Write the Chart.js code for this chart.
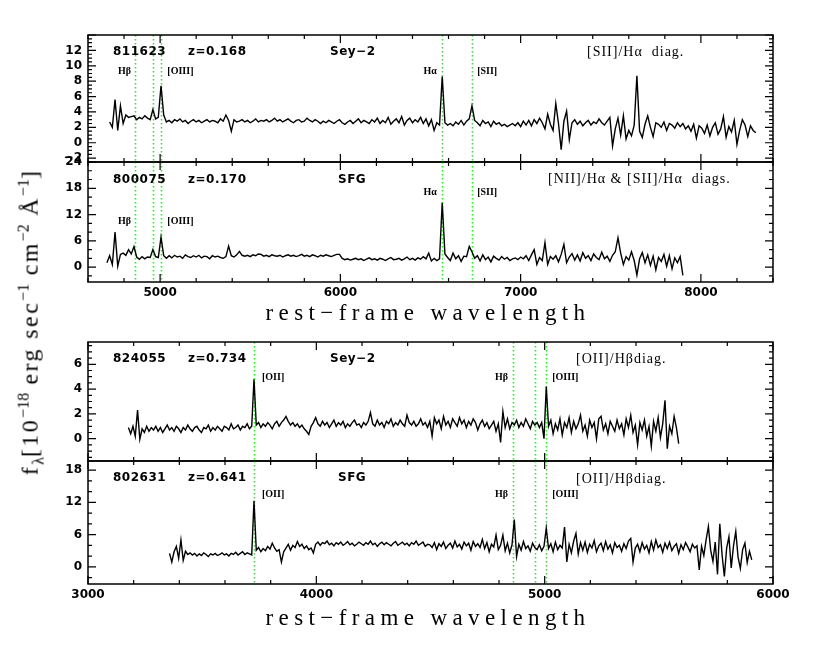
<!DOCTYPE html>
<html>
<head>
<meta charset="utf-8">
<script src="https://cdn.jsdelivr.net/npm/chart.js@4.4.1/dist/chart.umd.min.js"></script>
<style>
  body { margin: 0; background: #fff; width: 817px; height: 654px; position: relative; overflow: hidden; }
  canvas { position: absolute; left: 0; }
  .xtitle { position: absolute; left: 428px; transform: translate(-50%, -50%); font-family: "Liberation Serif", serif;
            font-size: 23px; letter-spacing: 5.4px; white-space: nowrap; color: #000; }
  .ytitle { position: absolute; left: 31px; top: 322px; transform: translate(-50%, -50%) rotate(-90deg);
            font-family: "Liberation Serif", serif; font-size: 24px; letter-spacing: 2.4px; white-space: nowrap; color: #000; }
  .ytitle sup, .ytitle sub { font-size: 16px; letter-spacing: 0; }
</style>
</head>
<body>
<canvas id="p1" width="817" height="159" style="top:19px"></canvas>
<canvas id="p2" width="817" height="161" style="top:146px"></canvas>
<canvas id="p3" width="817" height="151" style="top:326px"></canvas>
<canvas id="p4" width="817" height="164" style="top:445px"></canvas>
<div class="xtitle" style="top:313px">rest&minus;frame wavelength</div>
<div class="xtitle" style="top:618px">rest&minus;frame wavelength</div>
<div class="ytitle">f<sub>λ</sub>[10<sup>−18</sup> erg sec<sup>−1</sup> cm<sup>−2</sup> Å<sup>−1</sup>]</div>
<script>
// ---- data ----
// top pair: x from 4600 to 8400 A
const xTicksTop = [5000, 6000, 7000, 8000];
const xTicksBot = [3000, 4000, 5000, 6000];
const linesTop = [4861, 4959, 5007, 6563, 6731];
const linesBot = [3727, 4861, 4959, 5007];

const y1Ticks = [-2, 0, 2, 4, 6, 8, 10, 12];
const y2Ticks = [0, 6, 12, 18, 24];
const y3Ticks = [0, 2, 4, 6];
const y4Ticks = [0, 6, 12, 18];

// 811623, z=0.168 (rest-frame, 15 A sampling from 4720)
const wave1Start = 4720, wave1Step = 15;
const flux1 = [
  2.7, 2.0, 5.6, 1.6, 4.8, 2.5, 3.6, 3.3, 3.4, 3.5,
  3.0, 3.3, 3.1, 3.5, 3.2, 3.0, 4.3, 3.1, 3.3, 7.4, 3.6, 2.7,
  2.9, 2.6, 3.0, 2.8, 3.1, 2.7, 2.9, 2.5, 2.8, 3.0, 2.7, 2.9, 2.6, 2.8, 3.0, 2.7, 2.9, 2.8, 2.6, 3.1, 2.8, 3.6, 2.9,
  1.5, 3.0, 2.7,
  2.8, 3.0, 2.7, 2.9, 2.6, 2.8, 3.1, 2.7, 2.9, 2.8,
  3.0, 2.7, 2.9, 3.2, 2.8, 3.0, 2.7, 2.9, 3.1, 2.8,
  2.6, 2.9, 3.0, 2.7, 2.8, 3.2, 2.9, 2.7, 3.0, 2.8,
  2.5, 2.8, 2.6, 2.9, 2.7, 2.5, 2.8, 3.0, 2.6, 2.4,
  2.7, 2.9, 2.5, 2.8, 3.1, 2.6, 2.9, 2.7, 2.5, 3.0,
  2.7, 3.2, 2.5, 2.9, 2.6, 3.3, 2.4, 2.8, 3.1, 2.6,
  3.4, 2.3, 2.9, 3.2, 2.6, 3.0, 2.7, 3.3, 2.5, 3.1,
  2.2, 3.0, 1.6, 2.6, 2.3,
  8.6,
  2.6, 2.3, 2.5, 2.2, 2.7, 2.4, 2.9, 2.3, 2.8, 3.1,
  4.8, 2.9,
  2.6, 2.2, 2.9, 2.5, 2.7, 2.1, 2.8, 2.4, 2.6, 2.2, 2.4, 2.1, 2.3, 2.5,
  2.2, 2.6, 2.1, 2.8, 2.3, 2.9, 2.2, 3.0, 2.5, 3.2,
  2.6, 1.8, 3.7, 2.4, 1.6, 5.1, 2.5, -0.9, 2.8, 4.1, 0.4, 2.6,
  3.0, 2.4, 2.8, 2.2, 2.6, 2.9, 2.3, 2.7, 2.5, 3.1, 2.6, 2.3, 2.8, 3.3,
  -0.4, 1.8, 3.2, 1.0, 3.5, 0.5, 1.6, 0.9, 2.3, 8.7, 1.5, 0.7, 2.4, 3.5, 2.0, 0.8, 2.6,
  2.4, 2.0, 2.7, 1.6, 2.5, 2.3, 1.9, 2.6, 2.1, 2.5, 1.8, 2.2,
  1.5, 2.4, 0.6, 2.2, 1.9, 1.2, 2.3, 0.9, 2.0, 2.6, 1.1, 1.8, 3.4, 0.7, 2.1,
  1.4, 2.9, -0.2, 1.6, 3.0, 2.3, 0.8, 2.2, 1.6, 1.3
];

// 800075, z=0.170
const wave2Start = 4705, wave2Step = 15;
const flux2 = [
  1.0, 2.6, 0.6, 8.0, 0.2, 2.9, 3.2, 2.7, 4.0, 3.0, 4.7, 2.3, 1.8, 2.4, 1.9, 2.3, 2.2, 4.0, 2.4, 2.2, 6.8, 2.6, 2.0,
  2.6, 2.1, 2.7, 2.3, 2.5, 2.0, 2.8, 2.4, 2.2, 2.6, 2.3, 2.7, 2.1, 2.5, 2.4, 1.9, 2.6, 2.3, 2.5, 2.2, 2.0, 2.4,
  4.8, 2.6, 2.3, 2.8, 3.6, 2.7, 2.5,
  2.7, 2.4, 2.8, 2.6, 3.0, 2.9, 2.5, 2.7, 2.4, 2.8,
  2.6, 2.5, 2.7, 2.3, 2.6, 2.8, 2.5, 2.7, 2.4, 2.6,
  2.9, 2.5, 2.7, 2.4, 2.8, 2.6, 2.3, 2.7, 2.5, 2.8,
  2.6, 2.4, 2.7, 2.9,
  2.9,
  2.0, 1.7, 1.9, 1.6, 1.8, 2.0, 1.7, 1.9, 1.5, 1.8,
  2.1, 1.7, 1.9, 1.6, 2.0, 1.8, 1.5, 1.9, 2.2, 1.7,
  1.8, 2.0, 1.6, 1.9, 2.3, 1.7, 2.0, 1.6, 2.1, 1.8,
  2.4, 1.9,
  3.2, 1.4, 2.0, 1.5, 1.9,
  14.7,
  3.0, 2.2, 1.5, 3.2, 1.9, 2.6, 1.3, 2.5, 2.4, 4.7, 3.5, 2.0,
  2.6, 1.4, 2.8, 1.7, 2.3, 1.2, 2.5, 2.0, 1.6, 2.4, 1.8, 2.2, 1.5, 1.9, 2.1, 1.7, 2.3, 1.9, 2.6, 1.5, 2.8,
  4.0, 0.6, 2.2, 1.5, 5.6, 0.6, 2.4, 1.8, 2.6, 1.2, 2.9, 5.2, 1.0, 2.3,
  3.1, 1.6, 2.8, 1.4, 3.3, 2.0, 2.6, 1.5, 3.0, 2.2, 1.7, 3.4, 1.9, 2.5, 1.3, 2.7, 3.5,
  6.7, 3.2, 0.6, 2.4, 1.6, 3.5, 1.5, -1.8, 1.9, 3.3, 1.0, 2.8, 0.4, 2.5, -0.6, 2.2, 1.3, 2.9, 0.2, 2.6,
  -0.4, 2.1, 1.0, 2.4, -1.9
];

// 824055, z=0.734
const wave3Start = 3177, wave3Step = 10;
const flux3 = [
  0.9, 0.4, 1.0, 0.2, 2.3, -0.05, 0.8, 0.5, 1.0, 0.6, 0.9,
  0.7, 1.0, 0.6, 0.9, 0.5, 0.8, 1.1, 0.7, 0.9, 0.6,
  1.0, 0.8, 0.5, 0.9, 0.7, 1.1, 0.8, 0.6, 0.9, 1.0,
  0.7, 0.5, 0.9, 0.8, 1.1, 0.6, 0.9, 0.7, 1.0, 0.8,
  0.6, 1.0, 0.9, 0.7, 1.2, 0.8, 0.9, 1.1, 0.7, 1.0,
  0.9, 1.2, 0.8, 1.0,
  4.8,
  1.1, 1.3, 0.9, 1.2, 1.0, 1.3, 1.1, 0.8, 1.2, 1.4, 1.0, 1.3, 1.5,
  1.8, 1.4, 1.1, 1.3,
  1.0, 1.2, 0.9, 1.1, 0.8, 0.6, 0.35, 1.0, 1.3,
  1.7,
  1.2, 1.0, 1.4, 1.1, 1.3, 0.9, 1.2, 1.5, 1.0, 1.3,
  1.1, 1.4, 0.9, 1.2, 1.0, 1.3, 1.5, 1.1, 1.2, 0.9,
  1.3, 1.1, 1.4, 2.1, 1.2, 1.0, 1.5, 1.1, 1.3, 0.9,
  1.4, 1.2, 1.6, 1.0, 1.3, 1.1, 1.5, 1.2, 1.0, 1.9,
  1.3, 1.1, 1.4, 1.0, 1.2, 1.6, 1.1, 1.3, 0.9,
  1.4, 0.2, 1.7, 1.2, 1.5, 0.8, 1.8, 1.1, 1.4, 0.9,
  1.6, 1.3, 1.0, 1.7, 1.2, 1.5, 0.9, 1.4, 1.1, 1.6,
  1.3, 0.7, 1.2, 1.5, 1.0, 1.3, 0.8, 1.1, 1.4, 0.6,
  1.2, -0.3, 2.2, 0.9, 1.6, 0.8, 1.3,
  1.1, 1.5, 0.9, 1.3, 1.0, 1.6, 1.2, 0.8, 1.4, 1.1, 1.3, 0.9, 1.3, 0.0,
  4.2,
  1.0, 1.5, 0.4, 1.2, 0.7, 1.6, 0.3, 1.3, 0.9, 1.7,
  0.5, 1.4, 0.8, 1.2, 1.9, 0.6, 1.1, 0.2, 1.5, 0.9,
  1.3, 0.0, 1.6, 1.8, 0.7, 1.2, 0.4, 1.4, 1.0, 0.6,
  1.5, 0.8, 1.2, 0.3, 1.6, 0.9, 1.9, 0.5, 1.1, -0.5,
  1.3, 0.7, 1.5, 0.2, 1.0, -0.6, 1.4, 0.6, 1.7, 0.1,
  1.2, 3.1, -0.8, 1.0, 0.4, 1.8, 0.9, -0.4
];

// 802631, z=0.641
const wave4Start = 3357, wave4Step = 10;
const flux4 = [
  2.5, 0.9, 2.8, 3.8, 1.6, 5.0, 1.2, 2.9, 2.3, 2.6,
  2.2, 2.5, 2.0, 2.4, 2.1, 2.6, 2.3, 1.9, 2.4, 2.2,
  2.5, 2.1, 2.3, 2.6, 2.2, 2.4, 2.0, 2.5, 2.3, 2.7,
  2.2, 2.5, 2.8, 2.3, 2.6, 2.4, 2.2,
  12.3,
  3.1, 3.6, 2.8, 3.4, 3.0, 3.8, 3.3, 4.4, 3.5, 2.9, 3.2,
  0.9, 2.8,
  3.5, 4.2, 3.1, 4.0, 3.6, 4.7, 3.8, 4.2, 3.4, 3.9, 3.2, 3.5, 2.6,
  4.2, 4.6, 4.0, 4.5, 4.3, 4.8, 4.1, 4.4, 3.9, 4.5,
  4.2, 4.6, 4.0, 4.3, 4.7, 4.1, 4.4, 3.9, 4.2, 4.6,
  4.3, 4.0, 4.5, 4.2, 4.8, 4.1, 4.4, 3.8, 4.3, 4.6,
  4.1, 4.5, 4.2, 3.9, 4.4, 4.7, 4.0, 4.3, 4.6, 4.1,
  4.4, 3.9, 4.5, 4.2, 4.8, 4.0, 4.3, 4.6, 3.8, 4.2,
  4.1, 3.6, 4.5, 3.2, 4.3, 3.8, 4.6, 3.4, 4.0, 4.4,
  3.5, 4.8, 3.7, 4.2, 3.3, 4.6, 3.9, 4.4, 3.1, 4.7,
  3.8, 4.3, 3.6, 5.1, 3.4, 4.5, 2.8, 4.2, 3.7, 5.9,
  3.2, 4.0, 5.9, 3.0, 4.4, 2.6, 4.1,
  8.8, 1.9,
  4.2, 3.1, 4.7, 3.4, 3.9, 2.9, 4.4, 3.6, 3.2, 4.1, 3.0, 3.8,
  7.2, 3.4,
  4.3, 2.8, 4.6, 3.2, 4.0, 3.5,
  7.4, 0.9, 4.2, 2.6, 4.8, 6.2, 2.4, 4.5,
  3.1, 4.6, 2.7, 4.2, 3.5, 4.9, 2.8, 3.9, 4.4, 3.0,
  4.7, 3.3, 4.1, 2.6, 4.5, 3.6, 4.0, 2.9, 4.3, 3.4, 4.8,
  5.3, 0.9, 3.5,
  4.2, 2.8, 4.5, 3.3, 4.0, 2.6, 4.7, 3.1, 5.0, 3.6,
  4.1, 2.7, 4.4, 3.4, 4.6, 3.0, 3.8, 4.3, 2.5, 4.1,
  3.2, 4.5, 3.7, 2.8, 4.2, 3.5, 3.9,
  -0.6, 3.8, 2.1, 5.0, 7.5, 3.1, 1.0, 4.6, -1.4, 8.0,
  2.2, -1.8, 3.5, 5.6, -0.2, 3.9, 6.6, 1.8, -0.3, 3.2,
  4.4, 0.8, 2.9, 1.3
];

// ---- drawing ----
const TICK_FONT = { family: "DejaVu Sans", size: 12, weight: "bold" };
const ID_FONT = "bold 12px 'DejaVu Sans'";
const LINE_FONT = "bold 10px 'Liberation Serif'";
const DIAG_FONT = "14px 'Liberation Serif'";
const PAD = 16;

// fillText with manual letter spacing
function spaced(ctx, s, x, y, sp, align) {
  const chars = [...s];
  const w = chars.reduce((a, c) => a + ctx.measureText(c).width + sp, -sp);
  let cx = align === "right" ? x - w : x;
  ctx.textAlign = "left";
  chars.forEach(c => { ctx.fillText(c, cx, y); cx += ctx.measureText(c).width + sp; });
}

// one frame plugin per panel; settings kept in the closure
function makeFrame(cfg, canvasTop) {
  return {
    id: "pgframe",
    beforeDatasetsDraw(chart) {
      const { ctx, chartArea: a, scales: { x } } = chart;
      ctx.save();
      ctx.strokeStyle = "#22ee22";
      ctx.lineWidth = 1.6;
      ctx.setLineDash([1.6, 2.4]);
      cfg.lines.forEach(w => {
        const px = Math.round(x.getPixelForValue(w)) + 0.5;
        ctx.beginPath();
        ctx.moveTo(px, a.top);
        ctx.lineTo(px, a.bottom);
        ctx.stroke();
      });
      ctx.restore();
    },
    afterDatasetsDraw(chart) {
      const { ctx, chartArea: a, scales: { x, y } } = chart;
      ctx.save();
      ctx.strokeStyle = "#000";
      ctx.lineWidth = 1.5;
      ctx.strokeRect(a.left, a.top, a.right - a.left, a.bottom - a.top);
      ctx.lineWidth = 1.2;
      ctx.beginPath();
      // x ticks, inward on top and bottom (minor 200, major 1000)
      for (let v = Math.ceil(x.min / 200) * 200; v <= x.max; v += 200) {
        const px = x.getPixelForValue(v);
        const len = v % 1000 === 0 ? 8 : 4;
        ctx.moveTo(px, a.bottom); ctx.lineTo(px, a.bottom - len);
        ctx.moveTo(px, a.top); ctx.lineTo(px, a.top + len);
      }
      // y ticks, inward on left and right
      for (let v = Math.ceil(y.min / cfg.yMinor) * cfg.yMinor; v <= y.max + 1e-9; v += cfg.yMinor) {
        const py = y.getPixelForValue(v);
        const r = Math.abs(v / cfg.yMajor - Math.round(v / cfg.yMajor));
        const len = r < 1e-6 ? 8 : 4;
        ctx.moveTo(a.left, py); ctx.lineTo(a.left + len, py);
        ctx.moveTo(a.right, py); ctx.lineTo(a.right - len, py);
      }
      ctx.stroke();
      ctx.restore();
    },
    afterDraw(chart) {
      const { ctx, scales: { x } } = chart;
      ctx.save();
      ctx.fillStyle = "#000";
      ctx.textBaseline = "middle";
      cfg.notes.forEach(n => {
        ctx.font = n.font;
        const px = n.at !== undefined ? x.getPixelForValue(n.at) + n.dx : n.left;
        spaced(ctx, n.t, px, n.top - canvasTop, n.sp || 0, n.align);
      });
      ctx.restore();
    }
  };
}

const tickLabel = v => (v < 0 ? "\u2212" + Math.abs(v) : String(v));

function panel(id, cfg) {
  const cv = document.getElementById(id);
  const pts = cfg.flux.map((f, i) => ({ x: cfg.start + i * cfg.step, y: f }));
  new Chart(cv, {
    type: "line",
    data: { datasets: [{ data: pts, borderColor: "#000", borderWidth: 1.4, pointRadius: 0, tension: 0, fill: false }] },
    options: {
      responsive: false,
      animation: false,
      events: [],
      layout: { padding: { left: 0, right: 44, top: PAD, bottom: cfg.showX ? 0 : PAD } },
      plugins: { legend: { display: false }, tooltip: { enabled: false } },
      scales: {
        x: {
          type: "linear", min: cfg.xmin, max: cfg.xmax, display: cfg.showX,
          grid: { display: false, drawTicks: false }, border: { display: false },
          ticks: { padding: 4, font: TICK_FONT, color: "#000", maxRotation: 0, autoSkip: false, callback: tickLabel },
          afterBuildTicks: s => { s.ticks = cfg.xTicks.map(v => ({ value: v })); },
          afterFit: s => { s.height = cfg.showX ? 25 : 0; }
        },
        y: {
          min: cfg.ymin, max: cfg.ymax,
          grid: { display: false, drawTicks: false }, border: { display: false },
          ticks: { padding: 6, font: TICK_FONT, color: "#000", autoSkip: false, callback: tickLabel },
          afterBuildTicks: s => { s.ticks = cfg.yTicks.map(v => ({ value: v })); },
          afterFit: s => { s.width = 88; }
        }
      }
    },
    plugins: [makeFrame(cfg, parseInt(cv.style.top))]
  });
}

panel("p1", {
  flux: flux1, start: wave1Start, step: wave1Step, xmin: 4600, xmax: 8400, ymin: -2.5, ymax: 14,
  xTicks: xTicksTop, yTicks: y1Ticks, yMinor: 0.5, yMajor: 2, lines: linesTop, showX: false,
  notes: [
    { t: "811623", left: 113, top: 52, font: ID_FONT, sp: 0.5 },
    { t: "z=0.168", left: 188, top: 52, font: ID_FONT, sp: 0.5 },
    { t: "Sey\u22122", left: 330, top: 52, font: ID_FONT, sp: 0.5 },
    { t: "[SII]/H\u03b1  diag.", left: 587, top: 52, font: DIAG_FONT, sp: 1 },
    { t: "H\u03b2", at: 4861, dx: -4, top: 71, font: LINE_FONT, align: "right" },
    { t: "[OIII]", at: 5007, dx: 6, top: 71, font: LINE_FONT },
    { t: "H\u03b1", at: 6563, dx: -5, top: 71, font: LINE_FONT, align: "right" },
    { t: "[SII]", at: 6731, dx: 5, top: 71, font: LINE_FONT }
  ]
});

panel("p2", {
  flux: flux2, start: wave2Start, step: wave2Step, xmin: 4600, xmax: 8400, ymin: -3.4, ymax: 24,
  xTicks: xTicksTop, yTicks: y2Ticks, yMinor: 2, yMajor: 6, lines: linesTop, showX: true,
  notes: [
    { t: "800075", left: 113, top: 180, font: ID_FONT, sp: 0.5 },
    { t: "z=0.170", left: 188, top: 180, font: ID_FONT, sp: 0.5 },
    { t: "SFG", left: 338, top: 180, font: ID_FONT, sp: 0.5 },
    { t: "[NII]/H\u03b1 & [SII]/H\u03b1  diags.", left: 548, top: 179, font: DIAG_FONT, sp: 1 },
    { t: "H\u03b2", at: 4861, dx: -4, top: 221, font: LINE_FONT, align: "right" },
    { t: "[OIII]", at: 5007, dx: 6, top: 221, font: LINE_FONT },
    { t: "H\u03b1", at: 6563, dx: -5, top: 192, font: LINE_FONT, align: "right" },
    { t: "[SII]", at: 6731, dx: 5, top: 192, font: LINE_FONT }
  ]
});

panel("p3", {
  flux: flux3, start: wave3Start, step: wave3Step, xmin: 3000, xmax: 6000, ymin: -1.8, ymax: 7.8,
  xTicks: xTicksBot, yTicks: y3Ticks, yMinor: 0.5, yMajor: 2, lines: linesBot, showX: false,
  notes: [
    { t: "824055", left: 113, top: 359, font: ID_FONT, sp: 0.5 },
    { t: "z=0.734", left: 188, top: 359, font: ID_FONT, sp: 0.5 },
    { t: "Sey\u22122", left: 330, top: 359, font: ID_FONT, sp: 0.5 },
    { t: "[OII]/H\u03b2diag.", left: 576, top: 359, font: DIAG_FONT, sp: 1 },
    { t: "[OII]", at: 3727, dx: 8, top: 377, font: LINE_FONT },
    { t: "H\u03b2", at: 4861, dx: -5, top: 377, font: LINE_FONT, align: "right" },
    { t: "[OIII]", at: 5007, dx: 6, top: 377, font: LINE_FONT }
  ]
});

panel("p4", {
  flux: flux4, start: wave4Start, step: wave4Step, xmin: 3000, xmax: 6000, ymin: -3.2, ymax: 19.7,
  xTicks: xTicksBot, yTicks: y4Ticks, yMinor: 2, yMajor: 6, lines: linesBot, showX: true,
  notes: [
    { t: "802631", left: 113, top: 478, font: ID_FONT, sp: 0.5 },
    { t: "z=0.641", left: 188, top: 478, font: ID_FONT, sp: 0.5 },
    { t: "SFG", left: 338, top: 478, font: ID_FONT, sp: 0.5 },
    { t: "[OII]/H\u03b2diag.", left: 576, top: 479, font: DIAG_FONT, sp: 1 },
    { t: "[OII]", at: 3727, dx: 8, top: 494, font: LINE_FONT },
    { t: "H\u03b2", at: 4861, dx: -5, top: 494, font: LINE_FONT, align: "right" },
    { t: "[OIII]", at: 5007, dx: 6, top: 494, font: LINE_FONT }
  ]
});
</script>
</body>
</html>
